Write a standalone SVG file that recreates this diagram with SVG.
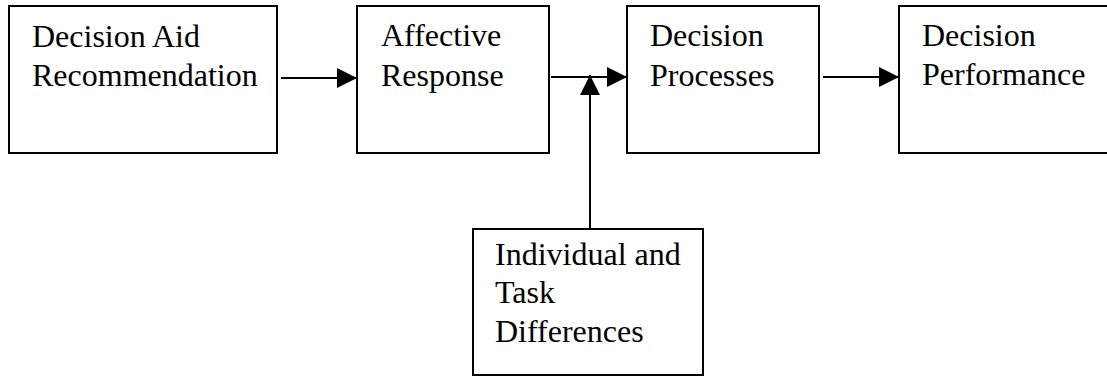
<svg xmlns="http://www.w3.org/2000/svg" width="1107" height="377" viewBox="0 0 1107 377">
<defs>
<style>
.box{fill:#fff;stroke:#000;stroke-width:2}
.lbl{font-family:"Liberation Serif","Times New Roman",serif;font-size:32px;fill:#000}
.conn{stroke:#000;stroke-width:2;fill:none}
</style>
<marker id="ah" viewBox="0 0 20 20" refX="20" refY="10" markerWidth="20" markerHeight="20" markerUnits="userSpaceOnUse" orient="auto">
<path d="M0,0 L20,10 L0,20 Z" fill="#000"/>
</marker>
</defs>
<rect width="1107" height="377" fill="#fff"/>
<g id="node-aid">
<rect class="box" x="9" y="6" width="268" height="147"/>
<text class="lbl" x="32" y="47">Decision Aid</text>
<text class="lbl" x="32" y="86">Recommendation</text>
</g>
<g id="node-affective">
<rect class="box" x="357" y="6" width="192" height="147"/>
<text class="lbl" x="381" y="46">Affective</text>
<text class="lbl" x="381" y="86">Response</text>
</g>
<g id="node-processes">
<rect class="box" x="627" y="6" width="192" height="147"/>
<text class="lbl" x="650" y="46">Decision</text>
<text class="lbl" x="650" y="86">Processes</text>
</g>
<g id="node-performance">
<rect class="box" x="899" y="6" width="212" height="147"/>
<text class="lbl" x="922" y="46">Decision</text>
<text class="lbl" x="922" y="85">Performance</text>
</g>
<g id="node-differences">
<rect class="box" x="473" y="229" width="230" height="146"/>
<text class="lbl" x="495" y="265">Individual and</text>
<text class="lbl" x="495" y="303">Task</text>
<text class="lbl" x="495" y="342">Differences</text>
</g>
<g id="connectors">
<line class="conn" x1="281" y1="78" x2="357" y2="78" marker-end="url(#ah)"/>
<line class="conn" x1="551" y1="77" x2="627" y2="77" marker-end="url(#ah)"/>
<line class="conn" x1="823" y1="77" x2="899" y2="77" marker-end="url(#ah)"/>
<line class="conn" x1="590" y1="229" x2="590" y2="75" marker-end="url(#ah)"/>
</g>
</svg>
